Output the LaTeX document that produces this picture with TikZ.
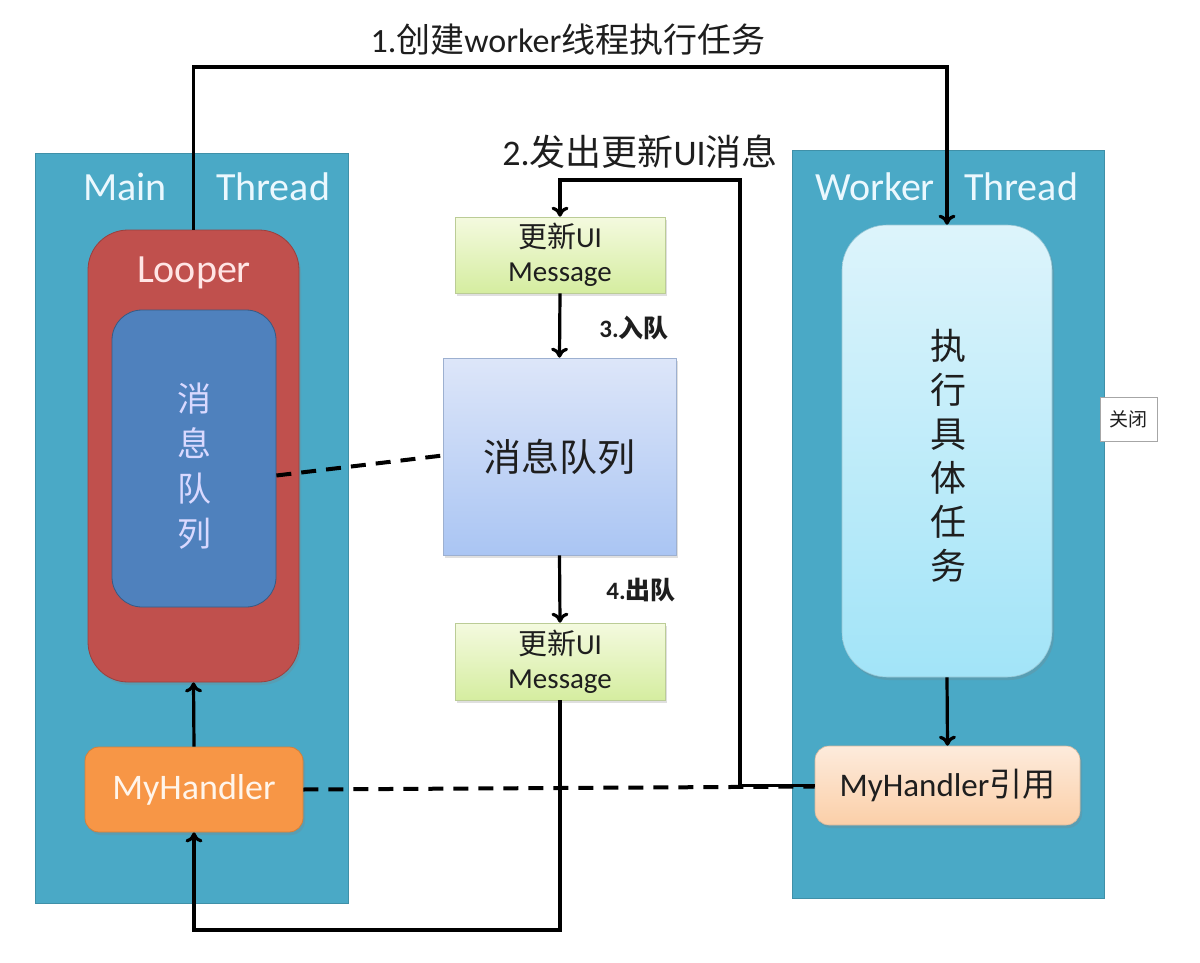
\documentclass[tikz,border=0pt]{standalone}
\usepackage{fontspec}
\setmainfont{Carlito}
\newfontfamily\cjk{Noto Sans CJK SC}
\usetikzlibrary{arrows.meta,shadows}
\definecolor{teal}{HTML}{4AA9C6}
\definecolor{lred}{HTML}{C0504D}
\definecolor{lblue}{HTML}{4F81BD}
\definecolor{lorange}{HTML}{F79646}
\definecolor{txtdark}{HTML}{1E1E1E}
\definecolor{tasktop}{HTML}{DDF4FB}
\definecolor{taskbot}{HTML}{A2E4F8}
\definecolor{queuetop}{HTML}{DDE6F9}
\definecolor{queuebot}{HTML}{AAC5F3}
\definecolor{msgtop}{HTML}{F4FADF}
\definecolor{msgbot}{HTML}{D5EDA0}
\definecolor{mhrtop}{HTML}{FDEBDC}
\definecolor{mhrbot}{HTML}{FBCFA8}
\tikzset{
  fs/.style={font=\fontsize{#1}{#1}\selectfont},
  box/.style={inner sep=0pt, minimum width=#1},
  thread/.style={rectangle, fill=teal, draw=teal!85!black, line width=0.8pt},
  softshadow/.style={drop shadow={opacity=0.25, shadow xshift=2pt, shadow yshift=-3pt}},
  msgbox/.style={rectangle, top color=msgtop, bottom color=msgbot, draw=msgbot!70!gray, line width=0.6pt, softshadow, align=center, text=txtdark, font=\fontsize{29}{34}\selectfont},
  conn/.style={line width=3.2pt, black, -{To[length=10pt,width=17pt]}},
  dashline/.style={line width=4pt, black, dash pattern=on 15pt off 10pt},
  steplabel/.style={text=txtdark, inner sep=0pt}
}
\begin{document}
\begin{tikzpicture}[x=1pt,y=-1pt]
\useasboundingbox (0,0) rectangle (1200,963);
\fill[white] (0,0) rectangle (1200,963);
% thread panels
\node[thread, box=313pt, minimum height=750pt] (main) at (191.5,528) {};
\node[thread, box=312pt, minimum height=748pt] (worker) at (948,524) {};
\node[text=cyan!8!white, fs=40] (mainlbl) at (125,187) {Main};
\node[text=cyan!8!white, fs=40] (mainthr) at (273,187) {Thread};
\node[text=cyan!8!white, fs=40] (worklbl) at (875,187) {Worker};
\node[text=cyan!8!white, fs=40] (workthr) at (1021,187) {Thread};
% left side
\node[rectangle, rounded corners=40pt, fill=lred, draw=lred!80!black, line width=0.8pt, softshadow, box=211pt, minimum height=452pt] (looper) at (193.5,456) {};
\node[text=red!10!white, fs=40] (looperlbl) at (194,273) {Looper};
\node[rectangle, rounded corners=30pt, fill=lblue, draw=lblue!70!black, line width=0.8pt, box=164pt, minimum height=297pt] (qin) at (194,458.5) {};
\node[text=blue!15!white, align=center, font={\cjk\fontsize{34}{45}\selectfont}] (qintxt) at (194,466) {消\\息\\队\\列};
\node[rectangle, rounded corners=14pt, fill=lorange, draw=lorange!85!black, line width=0.8pt, softshadow, box=218pt, minimum height=85pt, text=orange!8!white, fs=36] (mh) at (194,789.5) {MyHandler};
% right side
\node[rectangle, rounded corners=45pt, top color=tasktop, bottom color=taskbot, draw=taskbot!70!gray, line width=0.6pt, softshadow, box=210pt, minimum height=452pt] (task) at (947,451) {};
\node[text=txtdark, align=center, font={\cjk\fontsize{36}{44}\selectfont}] (tasktxt) at (948,456) {执\\行\\具\\体\\任\\务};
\node[rectangle, rounded corners=14pt, top color=mhrtop, bottom color=mhrbot, draw=mhrbot!70!gray, line width=0.6pt, softshadow, box=265pt, minimum height=79pt, text=txtdark, fs=33] (mhr) at (947.5,785.5) {MyHandler{\cjk 引用}};
% middle column
\node[msgbox, box=210pt, minimum height=76pt] (msg1) at (560,255) {{\cjk 更新}UI\\Message};
\node[rectangle, top color=queuetop, bottom color=queuebot, draw=queuebot!70!gray, line width=0.6pt, softshadow, box=233pt, minimum height=197pt, text=txtdark, font={\cjk\fontsize{38}{44}\selectfont}] (queue) at (559.5,456.5) {消息队列};
\node[msgbox, box=210pt, minimum height=77pt] (msg2) at (560,661.5) {{\cjk 更新}UI\\Message};
% close box
\node[rectangle, fill=white, draw=gray!70, line width=0.8pt, box=57pt, minimum height=44pt, font={\cjk\fontsize{19}{22}\selectfont}, text=txtdark] (close) at (1128.5,419) {关闭};
% labels
\node[steplabel, fs=34] (l1) at (568,40) {1.{\cjk 创建}worker{\cjk 线程执行任务}};
\node[steplabel, fs=36] (l2) at (640,152) {2.{\cjk 发出更新}UI{\cjk 消息}};
\node[steplabel, fs=25] (l3) at (634,328) {\bfseries 3.{\cjk 入队}};
\node[steplabel, fs=25] (l4) at (641,590) {\bfseries 4.{\cjk 出队}};
% helper coordinates
\coordinate (c1) at (570,67);
\coordinate (c2) at (740,180);
\coordinate (c5) at (400,930);
% dashed links
\draw[dashline] ([yshift=-17pt]qin.east) -- ([yshift=1pt]queue.west);
\draw[dashline] (mh.east) -- ([yshift=-1pt]mhr.west);
% connectors
\draw[conn] (looper.north) |- (c1) -| (task.north);
\draw[conn] (mhr.west) -| (c2) -| (msg1.north);
\draw[conn] (msg1.south) -- (queue.north);
\draw[conn] (queue.south) -- (msg2.north);
\draw[conn] (msg2.south) |- (c5) -| (mh.south);
\draw[conn] (mh.north) -- (looper.south);
\draw[conn] (task.south) -- (mhr.north);
\end{tikzpicture}
\end{document}
